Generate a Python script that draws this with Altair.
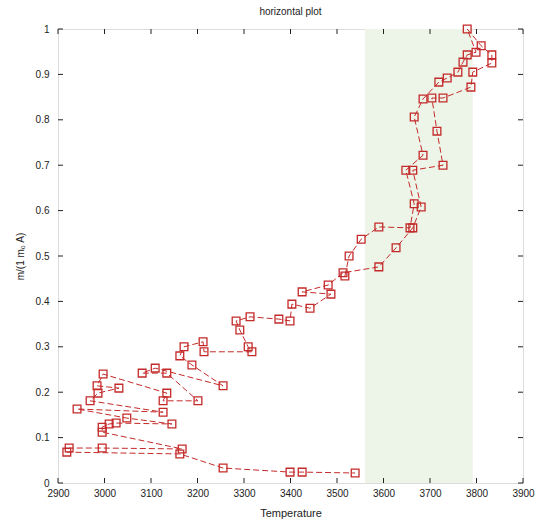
import altair as alt
import pandas as pd

# trajectory, in drawing order
temperature = [3517, 3526, 3552, 3590, 3657, 3666, 3648, 3685, 3666, 3685,
               3719, 3737, 3760, 3771, 3780, 3799, 3780, 3810, 3833, 3833,
               3792, 3788, 3728, 3704, 3715, 3728, 3663, 3681, 3663, 3627,
               3590, 3513, 3481, 3425, 3487, 3442, 3403, 3399, 3375, 3313,
               3283, 3291, 3309, 3317, 3214, 3212, 3171, 3162, 3188, 3255,
               3109, 3081, 3134, 3201, 3126, 3134, 2997, 2984, 3031, 2986,
               2969, 3126, 2941, 3048, 3145, 3025, 3010, 2995, 2995, 3167,
               2995, 2924, 2919, 3162, 3255, 3399, 3425, 3539]
mass = [0.456, 0.500, 0.537, 0.564, 0.562, 0.615, 0.689, 0.722, 0.806, 0.846,
        0.883, 0.892, 0.905, 0.927, 0.943, 0.949, 1.000, 0.963, 0.943, 0.925,
        0.905, 0.872, 0.848, 0.848, 0.775, 0.700, 0.689, 0.608, 0.562, 0.518,
        0.476, 0.463, 0.436, 0.421, 0.416, 0.385, 0.394, 0.357, 0.361, 0.366,
        0.357, 0.337, 0.300, 0.289, 0.289, 0.311, 0.300, 0.280, 0.260, 0.214,
        0.253, 0.242, 0.242, 0.181, 0.181, 0.198, 0.240, 0.214, 0.209, 0.198,
        0.181, 0.156, 0.163, 0.143, 0.130, 0.132, 0.130, 0.123, 0.112, 0.075,
        0.077, 0.077, 0.068, 0.064, 0.033, 0.024, 0.024, 0.022]

band_start = [3560]
band_end = [3792]

x_ticks = [2900, 3000, 3100, 3200, 3300, 3400, 3500, 3600, 3700, 3800, 3900]
y_ticks = [0, 0.1, 0.2, 0.3, 0.4, 0.5, 0.6, 0.7, 0.8, 0.9, 1]

W, H = 465, 454
FONT = "Liberation Sans"
RED = "#c42a2a"

df = pd.DataFrame({"T": temperature, "m": mass, "order": list(range(len(temperature)))})
band_df = pd.DataFrame({"a": band_start, "b": band_end})
xt_df = pd.DataFrame({"v": x_ticks})
yt_df = pd.DataFrame({"v": y_ticks})

xscale = alt.Scale(domain=[2900, 3900], nice=False, zero=False)
yscale = alt.Scale(domain=[0, 1], nice=False, zero=False)

xaxis = alt.Axis(values=x_ticks, format="d", tickSize=0, domain=False, grid=False,
                 labelPadding=5, labelFont=FONT, labelFontSize=10, labelColor="#222",
                 titleFont=FONT, titleFontSize=11, titleFontWeight="normal",
                 titlePadding=9, titleColor="#222", labelFlush=False)
yaxis = alt.Axis(values=y_ticks, format="~g", tickSize=0, domain=False, grid=False,
                 labelPadding=9, labelFont=FONT, labelFontSize=10, labelColor="#222",
                 titleFont=FONT, titleFontSize=10, titleFontWeight="normal",
                 titlePadding=10, titleColor="#222", labelFlush=False)

XT = "Temperature"
YT = "m/(1 m\u2080 A)"

band = alt.Chart(band_df).mark_rect(color="#edf5e9").encode(
    x=alt.X("a:Q", scale=xscale, axis=xaxis, title=XT),
    x2="b:Q",
    y=alt.value(0), y2=alt.value(H))

line = alt.Chart(df).mark_line(color=RED, strokeWidth=1, strokeDash=[6, 3]).encode(
    x=alt.X("T:Q", scale=xscale, axis=xaxis, title=XT),
    y=alt.Y("m:Q", scale=yscale, axis=yaxis, title=YT),
    order="order:Q")

pts = alt.Chart(df).mark_point(shape="square", filled=False, color=RED, size=60,
                               strokeWidth=1.3, opacity=1).encode(
    x=alt.X("T:Q", scale=xscale, axis=xaxis, title=XT),
    y=alt.Y("m:Q", scale=yscale, axis=yaxis, title=YT))

tick_bottom = alt.Chart(xt_df).mark_rule(color="#222", strokeWidth=1).encode(
    x=alt.X("v:Q", scale=xscale, axis=xaxis, title=XT),
    y=alt.value(H), y2=alt.value(H - 5))
tick_top = alt.Chart(xt_df).mark_rule(color="#222", strokeWidth=1).encode(
    x=alt.X("v:Q", scale=xscale, axis=xaxis, title=XT),
    y=alt.value(0), y2=alt.value(5))
tick_left = alt.Chart(yt_df).mark_rule(color="#222", strokeWidth=1).encode(
    y=alt.Y("v:Q", scale=yscale, axis=yaxis, title=YT),
    x=alt.value(0), x2=alt.value(5))
tick_right = alt.Chart(yt_df).mark_rule(color="#222", strokeWidth=1).encode(
    y=alt.Y("v:Q", scale=yscale, axis=yaxis, title=YT),
    x=alt.value(W), x2=alt.value(W - 5))

chart = alt.layer(band, line, pts, tick_bottom, tick_top, tick_left, tick_right).properties(
    width=W, height=H,
    title=alt.TitleParams(text="horizontal plot", font=FONT, fontSize=10,
                          fontWeight="normal", color="#222", offset=6, anchor="middle"),
    autosize=alt.AutoSizeParams(type="none"),
    padding={"left": 58, "top": 29, "right": 21, "bottom": 44},
).configure_view(stroke="#222", strokeWidth=1.2).configure(background="white")

chart.save("out.html", embed_options={"renderer": "svg", "actions": False})
